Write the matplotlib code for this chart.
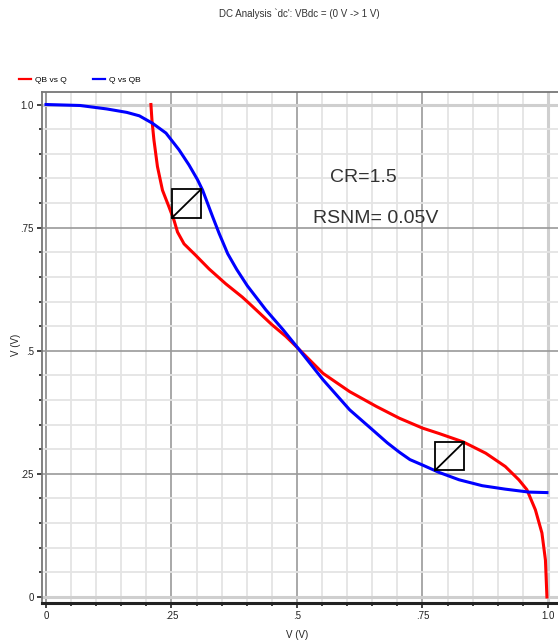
import matplotlib.pyplot as plt
from matplotlib.lines import Line2D
from matplotlib.patches import Rectangle
from matplotlib.ticker import MultipleLocator

# QB vs Q (red) and Q vs QB (blue)
qb_x = [0.209, 0.211, 0.215, 0.222, 0.232, 0.245, 0.255, 0.262, 0.275, 0.298, 0.325,
        0.358, 0.391, 0.405, 0.450, 0.478, 0.503, 0.552, 0.605, 0.658, 0.704, 0.750,
        0.783, 0.831, 0.876, 0.915, 0.942, 0.958, 0.975, 0.988, 0.995, 0.998]
qb_y = [1.000, 0.969, 0.928, 0.874, 0.826, 0.792, 0.765, 0.741, 0.717, 0.694, 0.666,
        0.636, 0.609, 0.596, 0.553, 0.529, 0.504, 0.454, 0.417, 0.387, 0.363, 0.343,
        0.332, 0.315, 0.292, 0.265, 0.238, 0.218, 0.177, 0.130, 0.075, 0.000]

q_x = [0.000, 0.068, 0.121, 0.161, 0.186, 0.212, 0.239, 0.265, 0.285, 0.302, 0.312,
       0.322, 0.332, 0.345, 0.362, 0.380, 0.401, 0.438, 0.472, 0.503, 0.552, 0.605,
       0.651, 0.680, 0.704, 0.725, 0.750, 0.783, 0.823, 0.869, 0.915, 0.962, 0.998]
q_y = [1.000, 0.998, 0.991, 0.984, 0.977, 0.962, 0.942, 0.908, 0.877, 0.847, 0.826,
       0.799, 0.772, 0.738, 0.697, 0.665, 0.632, 0.583, 0.543, 0.504, 0.441, 0.380,
       0.339, 0.313, 0.294, 0.279, 0.268, 0.253, 0.238, 0.226, 0.219, 0.213, 0.212]

# noise-margin squares: lower-left corner and side
snm_boxes = [(0.251, 0.770, 0.058), (0.775, 0.257, 0.057)]

major_ticks = [0, 0.25, 0.5, 0.75, 1.0]
tick_labels = ['0', '.25', '.5', '.75', '1.0']

title = "DC Analysis `dc': VBdc = (0 V -> 1 V)"
notes = ['CR=1.5', 'RSNM= 0.05V']

plt.rcParams['font.family'] = ['Liberation Sans Narrow', 'Liberation Sans', 'DejaVu Sans']


def _main():
    fig = plt.figure(figsize=(5.58, 6.44), dpi=100)
    ax = fig.add_axes([42 / 558, 41 / 644, 521 / 558, 511 / 644])
    ax.set_xlim(-0.008, 1.030)
    ax.set_ylim(-0.0122, 1.0254)

    ax.xaxis.set_major_locator(plt.FixedLocator(major_ticks))
    ax.yaxis.set_major_locator(plt.FixedLocator(major_ticks))
    ax.xaxis.set_minor_locator(MultipleLocator(0.05))
    ax.yaxis.set_minor_locator(MultipleLocator(0.05))
    ax.set_xticklabels(tick_labels)
    ax.set_yticklabels(tick_labels)

    ax.grid(which='minor', color='#e4e4e4', lw=1.3, zorder=0)
    ax.grid(which='major', color='#9a9a9a', lw=1.2, zorder=0)
    xg = ax.get_xgridlines()
    yg = ax.get_ygridlines()
    xg[0].set_color('#888888')
    for g in (xg[-1], yg[0], yg[-1]):
        g.set_color('#cfcfcf')
        g.set_linewidth(2.2)
    ax.set_axisbelow(True)

    ax.tick_params(which='both', direction='out', colors='#222222', labelsize=7,
                   width=1.2)
    ax.tick_params(which='major', length=3.5, pad=2.5)
    ax.tick_params(which='minor', length=2.5)

    for s in ('top', 'left'):
        ax.spines[s].set_color('#777777')
        ax.spines[s].set_linewidth(1.3)
    ax.spines['bottom'].set_color('#222222')
    ax.spines['bottom'].set_linewidth(2.2)
    ax.spines['right'].set_visible(False)

    ax.plot(qb_x, qb_y, color='#ff0000', lw=2.2, zorder=3, solid_joinstyle='round')
    ax.plot(q_x, q_y, color='#0000ff', lw=2.2, zorder=3, solid_joinstyle='round')

    for x0, y0, side in snm_boxes:
        ax.add_patch(Rectangle((x0, y0), side, side, fill=False, ec='black',
                               lw=1.3, zorder=4))
        ax.plot([x0, x0 + side], [y0, y0 + side], color='black', lw=1.3, zorder=4)

    ax.text(0.566, 0.842, notes[0], fontsize=14, color='#333333')
    ax.text(0.531, 0.759, notes[1], fontsize=14, color='#333333')

    ax.set_xlabel('V (V)', fontsize=7, color='#222222')
    ax.set_ylabel('V (V)', fontsize=7, color='#222222')
    ax.xaxis.set_label_coords(0.489, -0.052)
    ax.yaxis.set_label_coords(-0.040, 0.505)

    fig.text(299 / 558, 1 - 14 / 644, title, fontsize=7, color='#333333',
             ha='center', va='center')

    handles = [Line2D([], [], color='#ff0000', lw=1.6),
               Line2D([], [], color='#0000ff', lw=1.6)]
    fig.legend(handles, ['QB vs Q', 'Q vs QB'], loc='center left',
               bbox_to_anchor=(19 / 558, 1 - 80 / 644), ncol=2, frameon=False,
               fontsize=6, handlelength=1.45, handletextpad=0.45,
               columnspacing=3.2, borderpad=0, borderaxespad=0)

    fig.savefig('out.png', dpi=100)


if __name__ == '__main__':
    _main()
